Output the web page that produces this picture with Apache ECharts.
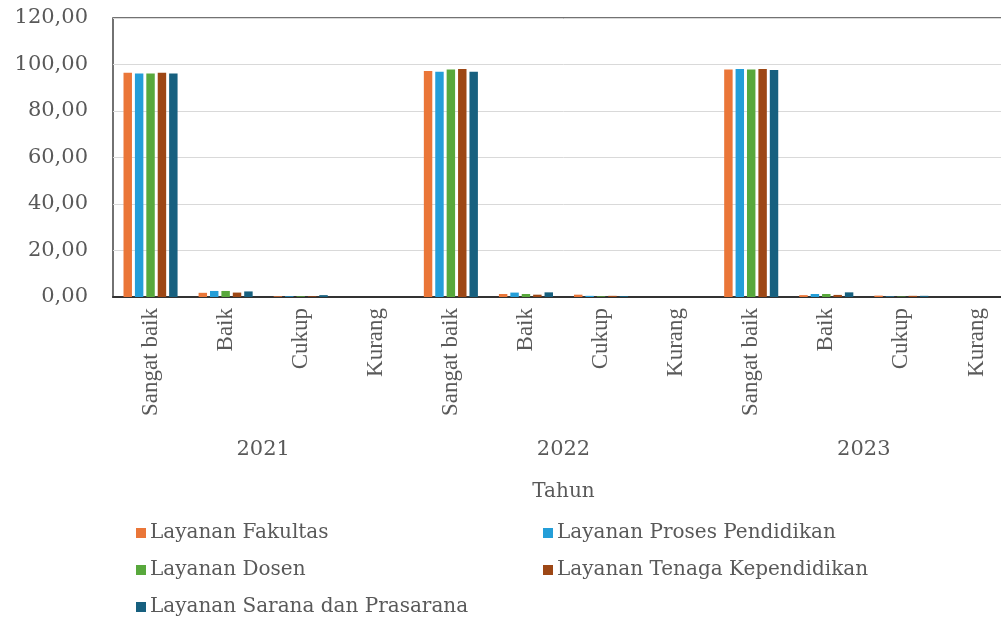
<!DOCTYPE html>
<html>
<head>
<meta charset="utf-8">
<script src="https://cdn.jsdelivr.net/npm/echarts@6/dist/echarts.min.js"></script>
<style>
  html, body { margin: 0; padding: 0; background: #fff; overflow: hidden; width: 1001px; height: 620px; }
  #chart { width: 1014px; height: 620px; }
</style>
</head>
<body>
<div id="chart"></div>
<script>
// ---- Data ----
const years = ['2021', '2022', '2023'];
const levels = ['Sangat baik', 'Baik', 'Cukup', 'Kurang'];
const categories = ['Sangat baik', 'Baik', 'Cukup', 'Kurang',
                    'Sangat baik', 'Baik', 'Cukup', 'Kurang',
                    'Sangat baik', 'Baik', 'Cukup', 'Kurang'];
const yTicks = [0, 20, 40, 60, 80, 100, 120];

const seriesNames = ['Layanan Fakultas', 'Layanan Proses Pendidikan', 'Layanan Dosen',
                     'Layanan Tenaga Kependidikan', 'Layanan Sarana dan Prasarana'];
const layananFakultas      = [96.5, 1.8, 0.3, 0, 97.2, 1.3, 1.0, 0, 97.8, 0.8, 0.6, 0];
const layananProses        = [96.1, 2.6, 0.3, 0, 96.9, 1.9, 0.5, 0, 98.1, 1.3, 0.2, 0];
const layananDosen         = [96.1, 2.6, 0.3, 0, 97.8, 1.3, 0.3, 0, 97.8, 1.3, 0.2, 0];
const layananTenaga        = [96.5, 1.9, 0.3, 0, 98.1, 1.0, 0.5, 0, 98.1, 0.9, 0.5, 0];
const layananSarana        = [96.1, 2.4, 0.8, 0, 96.9, 2.0, 0.4, 0, 97.6, 2.0, 0.5, 0];
const seriesValues = [layananFakultas, layananProses, layananDosen, layananTenaga, layananSarana];
const colors = ['#EA7638', '#249ED8', '#58A83C', '#9D4715', '#17607F'];

// ---- Chart ----
const chart = echarts.init(document.getElementById('chart'), null, { renderer: 'canvas' });
const textColor = '#595959';
const serifWide = '"DejaVu Serif", serif';
const serifNarrow = '"Liberation Serif", "Times New Roman", serif';

const option = {
  backgroundColor: '#ffffff',
  animation: false,
  color: colors,
  grid: {
    left: 113, top: 18, right: 0, bottom: 323,
    show: true, borderColor: '#444', borderWidth: 1.5, backgroundColor: '#fff'
  },
  xAxis: [
    {
      type: 'category',
      data: categories,
      gridIndex: 0,
      position: 'bottom',
      axisLine: { show: true, lineStyle: { color: '#333', width: 2 } },
      axisTick: { show: false },
      axisLabel: {
        rotate: 90, interval: 0, margin: 11,
        fontFamily: serifNarrow, fontSize: 23, color: textColor
      },
      splitLine: { show: false }
    },
    {
      type: 'category',
      data: years,
      gridIndex: 0,
      position: 'bottom',
      offset: 134,
      axisLine: { show: false },
      axisTick: { show: false },
      splitLine: { show: false },
      axisLabel: { interval: 0, margin: 8, fontFamily: serifWide, fontSize: 21, color: textColor },
      name: 'Tahun',
      nameLocation: 'middle',
      nameGap: 51,
      nameTextStyle: { fontFamily: serifWide, fontSize: 20, color: textColor }
    }
  ],
  yAxis: {
    type: 'value',
    min: yTicks[0], max: yTicks[yTicks.length - 1], interval: 20,
    axisLine: { show: false },
    axisTick: { show: false },
    splitLine: { show: true, lineStyle: { color: '#d9d9d9', width: 1 } },
    axisLabel: {
      margin: 25, fontFamily: serifWide, fontSize: 21, color: textColor,
      formatter: v => v.toFixed(2).replace('.', ',')
    }
  },
  legend: [
    {
      orient: 'vertical', left: 136, top: 523, itemGap: 17, padding: 0, height: 97,
      itemWidth: 10, itemHeight: 10, icon: 'rect',
      data: [seriesNames[0], seriesNames[2], seriesNames[4]],
      textStyle: { fontFamily: serifWide, fontSize: 20, color: textColor, padding: [0, 0, 0, -1] }
    },
    {
      orient: 'vertical', left: 543, top: 523, itemGap: 17, padding: 0, height: 97,
      itemWidth: 10, itemHeight: 10, icon: 'rect',
      data: [seriesNames[1], seriesNames[3]],
      textStyle: { fontFamily: serifWide, fontSize: 20, color: textColor, padding: [0, 0, 0, -1] }
    }
  ],
  series: seriesNames.map((name, i) => ({
    name: name,
    type: 'bar',
    xAxisIndex: 0,
    data: seriesValues[i],
    barGap: '35%',
    barCategoryGap: '28%',
    itemStyle: { color: colors[i] }
  }))
};
chart.setOption(option);
</script>
</body>
</html>
